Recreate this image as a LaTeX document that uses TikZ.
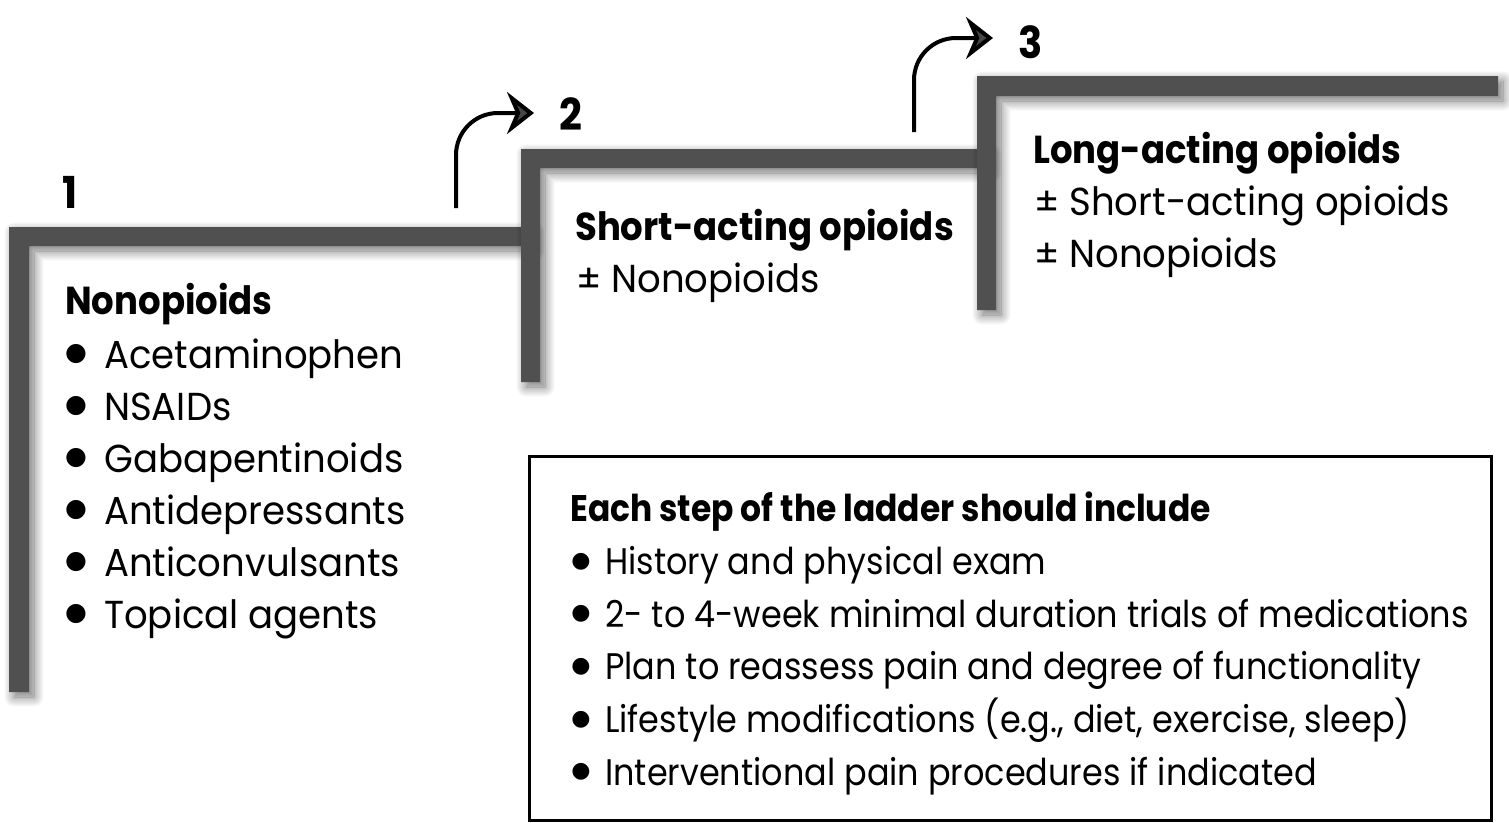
\documentclass[tikz,border=0pt]{standalone}
\usepackage{fontspec}
\setmainfont{Poppins}[UprightFeatures={FakeStretch=0.95}, BoldFeatures={FakeStretch=0.91}]
\newfontfamily\boxfont{Poppins}[UprightFeatures={FakeStretch=0.905}, BoldFeatures={FakeStretch=0.89}]
\newfontfamily\symfont{DejaVu Sans}
\usetikzlibrary{arrows.meta,shadows.blur}
\definecolor{laddergray}{RGB}{80,80,80}
\tikzset{
  x=1pt, y=-1pt,
  stepbar/.style={fill=laddergray, blur shadow={shadow xshift=5pt, shadow yshift=-5pt, shadow blur radius=10pt, shadow blur steps=14, shadow opacity=55}},
  riser/.style={line width=4pt, rounded corners=42pt, -{Stealth[length=27pt, width=42pt, inset=9pt]}},
  stepnum/.style={anchor=base west, inner sep=0pt, font=\fontsize{44}{52}\selectfont\bfseries},
  head/.style={anchor=base west, inner sep=0pt, font=\fontsize{39}{52}\selectfont\bfseries},
  item/.style={anchor=base west, inner sep=0pt, font=\fontsize{39}{52}\selectfont},
  dot/.style={anchor=center, inner sep=0pt, font=\fontsize{25}{25}\symfont},
  boxdot/.style={anchor=center, inner sep=0pt, font=\fontsize{22}{22}\symfont},
  boxhead/.style={anchor=base west, inner sep=0pt, font=\fontsize{37}{52}\boxfont\bfseries},
  boxitem/.style={anchor=base west, inner sep=0pt, font=\fontsize{37}{52}\boxfont},
  infobox/.style={line width=3pt}
}
\begin{document}
\begin{tikzpicture}
\useasboundingbox (0,0) rectangle (1509,822);

% the three steps of the ladder
\fill[stepbar] (9,692) -- (9,227) -- (530,227) -- (530,246) -- (29,246) -- (29,692) -- cycle;
\fill[stepbar] (521,382) -- (521,149) -- (987,149) -- (987,168) -- (540,168) -- (540,382) -- cycle;
\fill[stepbar] (977,310) -- (977,76) -- (1498,76) -- (1498,96) -- (996,96) -- (996,310) -- cycle;

% step numbers
\node[stepnum] (n1) at (62,208) {1};
\node[stepnum] (n2) at (559,130) {2};
\node[stepnum] (n3) at (1018,58) {3};

% arrows climbing to the next step
\coordinate (r1s) at (456,208);
\coordinate (r1e) at (534,113);
\coordinate (r2s) at (914,132);
\coordinate (r2e) at (993,38);
\draw[riser] (r1s) |- (r1e);
\draw[riser] (r2s) |- (r2e);

% step 1
\node[head] (h1) at (65,314) {Nonopioids};
\foreach \t [count=\i] in {Acetaminophen, NSAIDs, Gabapentinoids, Antidepressants, Anticonvulsants, Topical agents} {
  \node[dot] (b\i) at (76,302+52*\i) {●};
  \node[item] (s\i) at (104,316+52*\i) {\t};
}

% step 2
\node[head] (h2) at (575,240) {Short-acting opioids};
\node[item] (p21) at (576,292) {± Nonopioids};

% step 3
\node[head] (h3) at (1033,163) {Long-acting opioids};
\node[item] (p31) at (1034,215) {± Short-acting opioids};
\node[item] (p32) at (1034,267) {± Nonopioids};

% what every step includes
\draw[infobox] (529.5,456.5) rectangle (1491.5,820.5);
\node[boxhead] (bh) at (570,521) {Each step of the ladder should include};
\foreach \t [count=\i] in {History and physical exam, 2- to 4-week minimal duration trials of medications, Plan to reassess pain and degree of functionality, {Lifestyle modifications (e.g., diet, exercise, sleep)}, Interventional pain procedures if indicated} {
  \node[boxdot] (c\i) at (581,509+52.6*\i) {●};
  \node[boxitem] (t\i) at (605,522+52.6*\i) {\t};
}
\end{tikzpicture}
\end{document}
